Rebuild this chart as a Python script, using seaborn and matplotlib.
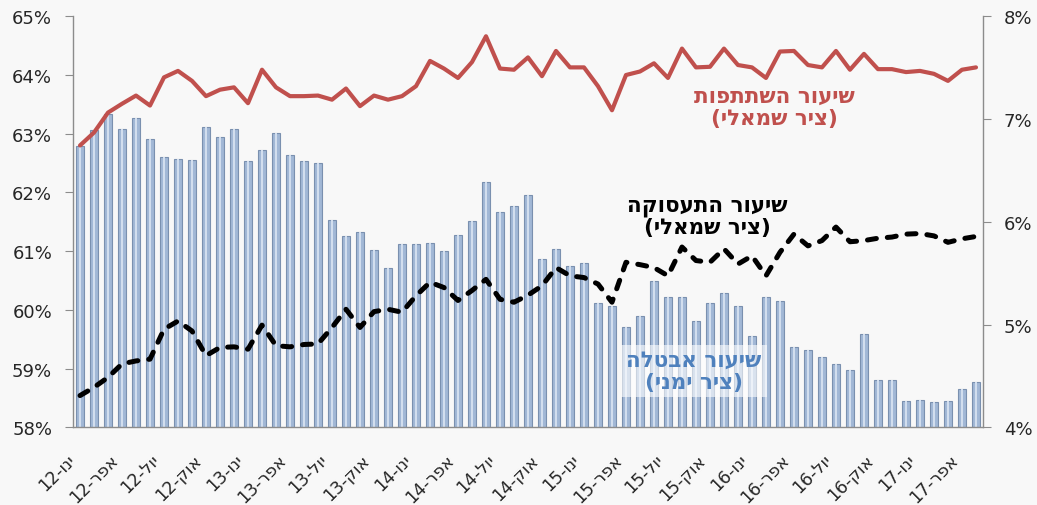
import numpy as np
import pandas as pd
import matplotlib
matplotlib.use('Agg')
import matplotlib.pyplot as plt
import seaborn as sns

# monthly data, Jan 2012 - May 2017
unemployment = [6.74, 6.89, 7.05, 6.90, 7.01, 6.81, 6.63, 6.61, 6.60, 6.92,
                6.83, 6.90, 6.59, 6.70, 6.86, 6.65, 6.59, 6.57, 6.02, 5.86,
                5.90, 5.73, 5.55, 5.78, 5.78, 5.79, 5.72, 5.87, 6.01, 6.39,
                6.10, 6.15, 6.26, 5.64, 5.74, 5.57, 5.60, 5.21, 5.18, 4.98,
                5.08, 5.42, 5.27, 5.27, 5.03, 5.21, 5.31, 5.18, 4.89, 5.27,
                5.23, 4.78, 4.75, 4.68, 4.62, 4.56, 4.91, 4.46, 4.46, 4.26,
                4.27, 4.25, 4.26, 4.37, 4.44]
participation = [62.80, 63.02, 63.36, 63.51, 63.65, 63.48, 63.96, 64.07, 63.90, 63.64,
                 63.75, 63.79, 63.52, 64.09, 63.79, 63.64, 63.64, 63.65, 63.58, 63.77,
                 63.47, 63.65, 63.58, 63.64, 63.81, 64.24, 64.11, 63.95, 64.22, 64.66,
                 64.11, 64.09, 64.30, 63.98, 64.41, 64.13, 64.13, 63.81, 63.40, 64.00,
                 64.06, 64.20, 63.95, 64.45, 64.13, 64.14, 64.45, 64.17, 64.13, 63.95,
                 64.40, 64.41, 64.17, 64.13, 64.41, 64.09, 64.36, 64.10, 64.10, 64.05,
                 64.07, 64.02, 63.90, 64.09, 64.13]
employment = [58.54, 58.68, 58.85, 59.08, 59.13, 59.16, 59.67, 59.81, 59.64, 59.22,
              59.36, 59.37, 59.33, 59.74, 59.39, 59.37, 59.41, 59.42, 59.70, 60.01,
              59.70, 59.97, 60.01, 59.96, 60.24, 60.47, 60.38, 60.16, 60.33, 60.52,
              60.18, 60.13, 60.25, 60.41, 60.72, 60.58, 60.55, 60.44, 60.13, 60.81,
              60.77, 60.72, 60.58, 61.07, 60.84, 60.81, 61.04, 60.78, 60.92, 60.58,
              60.98, 61.29, 61.09, 61.18, 61.41, 61.16, 61.18, 61.22, 61.24, 61.29,
              61.30, 61.26, 61.15, 61.21, 61.25]

tick_labels = ['ינו-12', 'אפר-12', 'יול-12', 'אוק-12',
               'ינו-13', 'אפר-13', 'יול-13', 'אוק-13',
               'ינו-14', 'אפר-14', 'יול-14', 'אוק-14',
               'ינו-15', 'אפר-15', 'יול-15', 'אוק-15',
               'ינו-16', 'אפר-16', 'יול-16', 'אוק-16',
               'ינו-17', 'אפר-17']

part_label = ['שיעור השתתפות', '(ציר שמאלי)']
emp_label = ['שיעור התעסוקה', '(ציר שמאלי)']
unemp_label = ['שיעור אבטלה', '(ציר ימני)']

MIRROR = str.maketrans('()', ')(')


def rtl(s):
    # matplotlib does no bidi, so write hebrew in visual order
    return s[::-1].translate(MIRROR)


def rtl_date(s):
    m, yy = s.split('-')
    return f"{yy}-{m[::-1]}"


bg = '#F8F8F8'
grey = '#8C8C8C'
red = '#C0504D'
blue = '#4F81BD'

sns.set_style('white')
plt.rcParams['font.family'] = ['DejaVu Sans']

n = len(unemployment)
df = pd.DataFrame({'idx': np.arange(n), 'unemp': unemployment,
                   'part': participation, 'emp': employment})

fig = plt.figure(figsize=(10.37, 5.06), dpi=100, facecolor=bg)
ax = fig.add_axes([0.0704, 0.1536, 0.8775, 0.8122])
ax2 = ax.twinx()
ax.set_zorder(ax2.get_zorder() + 1)
ax.patch.set_visible(False)
ax2.patch.set_facecolor(bg)

# bars (right axis), a thin light bar on top for the cylinder look
sns.barplot(data=df, x='idx', y='unemp', ax=ax2, color='#A2B8D6', width=0.58,
            edgecolor='#7A90AF', linewidth=0.8, saturation=1, errorbar=None)
sns.barplot(data=df, x='idx', y='unemp', ax=ax2, color='#D2DEEE', width=0.16,
            linewidth=0, saturation=1, errorbar=None)

# lines (left axis)
sns.lineplot(data=df, x='idx', y='part', ax=ax, color=red, linewidth=3)
sns.lineplot(data=df, x='idx', y='emp', ax=ax, color='black', linewidth=3.6,
             linestyle=(0, (1.8, 2.2)), dash_capstyle='round')

ax.set_xlim(-0.5, n - 0.5)
ax.set_ylim(58, 65)
ax2.set_ylim(4, 8)

ax.set_yticks(range(58, 66))
ax.set_yticklabels([f"{v}%" for v in range(58, 66)])
ax2.set_yticks(range(4, 9))
ax2.set_yticklabels([f"{v}%" for v in range(4, 9)])

# ticks sit on the category boundaries, every 3 months
ax.set_xticks(np.arange(-0.5, n - 1, 3))
ax.set_xticklabels([rtl_date(t) for t in tick_labels], rotation=45, ha='right',
                   va='center', rotation_mode='anchor', fontsize=12.5)
ax.tick_params(axis='x', which='major', length=5, color=grey, direction='out', pad=16)
ax.tick_params(axis='y', direction='out', length=6, color=grey, pad=9,
               labelsize=13, left=True)
ax2.tick_params(axis='y', direction='out', length=6, color=grey, pad=9,
                labelsize=13, right=True)
ax2.tick_params(axis='x', which='both', bottom=False, labelbottom=False)

for a in (ax, ax2):
    a.set_xlabel('')
    a.set_ylabel('')
    a.grid(False)
    for s in a.spines.values():
        s.set_visible(False)
ax.spines['left'].set_visible(True)
ax.spines['bottom'].set_visible(True)
ax2.spines['right'].set_visible(True)
for s in (ax.spines['left'], ax.spines['bottom'], ax2.spines['right']):
    s.set_color(grey)
    s.set_linewidth(1)

txt = dict(ha='center', va='center', fontsize=15.5, fontweight='bold',
           linespacing=1.1, transform=ax.transAxes)
ax.text(0.771, 0.780, '\n'.join(rtl(t) for t in part_label), color=red, **txt)
ax.text(0.697, 0.513, '\n'.join(rtl(t) for t in emp_label), color='black', **txt)
ax.text(0.682, 0.137, '\n'.join(rtl(t) for t in unemp_label), color=blue,
        bbox=dict(boxstyle='square,pad=0.25', fc='white', ec='none', alpha=0.6), **txt)

fig.savefig('out.png', dpi=100, facecolor=bg)
